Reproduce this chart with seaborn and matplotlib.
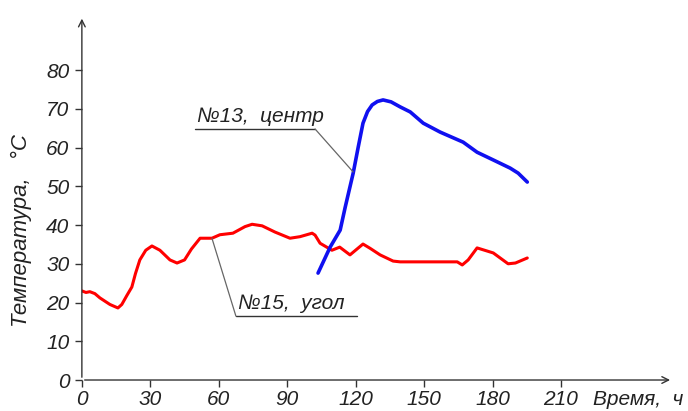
import matplotlib
matplotlib.use("Agg")
import matplotlib.pyplot as plt
import seaborn as sns
import pandas as pd

# №15, угол (red)
t15 = [0, 1.8, 3.5, 5.7, 7.9, 12.3, 15.8, 17.5, 19.7, 21.9, 23.5, 25.4, 28, 30.7, 34.2, 38.6,
       41.7, 45, 48, 51.8, 57, 60.5, 66.2, 71.5, 74.6, 79, 84.6, 91.2, 95.6, 100.9,
       102.2, 104.4, 109.6, 113, 117.5, 123.2, 126.3, 130.7, 136.4, 139.5, 164.5,
       166.7, 169.3, 173.2, 180.3, 186.8, 190, 195.2]
v15 = [23, 22.6, 22.8, 22.3, 21.2, 19.5, 18.6, 19.5, 21.8, 24, 27.5, 31, 33.5, 34.6, 33.5, 31,
       30.2, 31, 33.8, 36.6, 36.6, 37.5, 37.9, 39.6, 40.2, 39.8, 38.2, 36.6, 37.0, 37.9,
       37.4, 35.3, 33.5, 34.3, 32.3, 35.1, 34.0, 32.3, 30.7, 30.5, 30.5,
       29.7, 31, 34.1, 32.8, 30.0, 30.2, 31.5]

# №13, центр (blue)
t13 = [103.5, 108.8, 113.2, 115.4, 118.9, 121.1, 123.2, 125.2, 127.2, 129.5, 132, 135.5,
       139.5, 143.9, 149.6, 157, 167.1, 173.2, 180.3, 187.7, 191.2, 195.2]
v13 = [27.6, 34.3, 38.7, 44.6, 53.4, 60.1, 66.3, 69.3, 71.0, 71.9, 72.3, 71.8,
       70.5, 69.2, 66.3, 64.0, 61.4, 58.8, 56.8, 54.7, 53.4, 51.1]

xticks = [0, 30, 60, 90, 120, 150, 180, 210]
yticks = [0, 10, 20, 30, 40, 50, 60, 70, 80]

sns.set_style("white")
plt.rcParams['font.family'] = ['Liberation Sans', 'DejaVu Sans']
plt.rcParams['font.style'] = 'italic'

fig = plt.figure(figsize=(6.88, 4.11), dpi=100)
ax = fig.add_axes([0.119, 0.0754, 0.859, 0.886])

df15 = pd.DataFrame({"t": t15, "v": v15})
df13 = pd.DataFrame({"t": t13, "v": v13})
sns.lineplot(data=df15, x="t", y="v", color="#ff0000", lw=2.2, ax=ax)
sns.lineplot(data=df13, x="t", y="v", color="#1010f0", lw=2.6, ax=ax)

ax.set_xlim(0, 259)
ax.set_ylim(0, 94)
for s in ax.spines.values():
    s.set_visible(False)

# axes with arrows
ax.annotate("", xy=(259, 0), xytext=(0, 0), xycoords="data",
            arrowprops=dict(arrowstyle="->", color="#333333", lw=1, mutation_scale=12),
            annotation_clip=False)
ax.annotate("", xy=(0, 94), xytext=(0, 0), xycoords="data",
            arrowprops=dict(arrowstyle="->", color="#333333", lw=1, mutation_scale=12),
            annotation_clip=False)

ax.set_xticks(xticks)
ax.set_yticks(yticks)
ax.tick_params(axis="both", which="major", length=5, width=1, color="#333333",
               labelsize=15, labelcolor="#222222", direction="out")
ax.tick_params(axis="x", pad=2)
ax.tick_params(axis="y", pad=4)
ax.tick_params(left=True, bottom=True)

ax.set_xlabel("")
ax.set_ylabel("Температура,   °C", fontsize=16, color="#222222")
ax.yaxis.set_label_coords(-0.085, 0.41)
ax.text(224, -2.6, "Время,  ч", fontsize=15, color="#222222", ha="left", va="top")

# leader labels
gray = "#666666"
ax.text(50.5, 65.6, "№13,  центр", fontsize=15, color="#222222", ha="left", va="bottom")
ax.plot([49.6, 102.2], [64.8, 64.8], color="#333333", lw=1)
ax.plot([102.2, 118.9], [64.8, 53.7], color=gray, lw=0.9)

ax.text(68.5, 17.3, "№15,  угол", fontsize=15, color="#222222", ha="left", va="bottom")
ax.plot([67.5, 120.6], [16.5, 16.5], color="#333333", lw=1)
ax.plot([67.5, 57], [16.5, 36.6], color=gray, lw=0.9)

fig.savefig("out.png", dpi=100)
